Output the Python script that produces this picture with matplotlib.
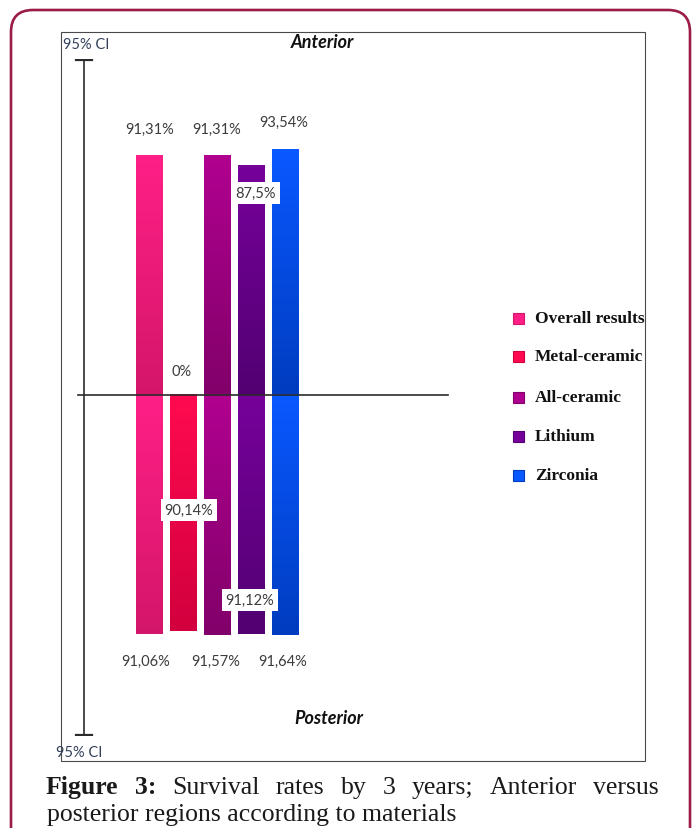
import numpy as np
import matplotlib
matplotlib.use("Agg")
import matplotlib.pyplot as plt
from matplotlib.patches import Rectangle, FancyBboxPatch
from matplotlib.colors import LinearSegmentedColormap
from matplotlib.transforms import blended_transform_factory

# ---------------- data ----------------
materials = ["Overall results", "Metal-ceramic", "All-ceramic", "Lithium", "Zirconia"]
anterior = [91.31, 0.0, 91.31, 87.5, 93.54]
posterior = [91.06, 90.14, 91.57, 91.12, 91.64]
anterior_labels = ["91,31%", "0%", "91,31%", "87,5%", "93,54%"]
posterior_labels = ["91,06%", "90,14%", "91,57%", "91,12%", "91,64%"]

# ---------------- styles ----------------
bright = ["#ff1f86", "#ff0a50", "#b0008f", "#76009a", "#0a58ff"]
dark = ["#d4166a", "#d2003e", "#82006a", "#520072", "#003cc0"]
# label placement (pixel offsets in x, pixel rows in y)
ant_dx = [1, -1, 0, 5, -1]
ant_y = [130, 372, 130, 194, 123]
post_dx = [-3, 6, -1, -1, -2]
post_y = [662, 511, 662, 601, 662]
ant_boxed = [False, False, False, True, False]
post_boxed = [False, True, False, True, False]

W, H = 697, 829
fig = plt.figure(figsize=(W / 100, H / 100), dpi=100)
fig.patch.set_facecolor("white")

# pixel-coordinate background axes
ax0 = fig.add_axes([0, 0, 1, 1])
ax0.set_xlim(0, W)
ax0.set_ylim(H, 0)
ax0.axis("off")

border = FancyBboxPatch((11, 11), 679, 900, boxstyle="round,pad=0,rounding_size=22",
                        fc="none", ec="#9b1c47", lw=1.9, zorder=1)
ax0.add_patch(border)
frame = Rectangle((61, 33), 584, 729, fc="none", ec="#4a4a4a", lw=0.8, zorder=1)
ax0.add_patch(frame)

ax0.text(322, 42, "Anterior", ha="center", va="center", fontsize=13,
         fontweight="bold", fontstyle="italic", family="Lato", color="#111111")
ax0.text(329, 718, "Posterior", ha="center", va="center", fontsize=13,
         fontweight="bold", fontstyle="italic", family="Lato", color="#111111")
ax0.text(63, 45, "95% CI", ha="left", va="center", fontsize=10.5, family="Lato",
         color="#34405a")
t = ax0.text(56, 753, "95% CI", ha="left", va="center", fontsize=10.5, family="Lato",
             color="#34405a")
t.set_clip_path(Rectangle((61, 33), 584, 729, transform=ax0.transData))

# legend (drawn manually to match positions)
leg_y = [319, 357, 398, 437, 476]
for i, name in enumerate(materials):
    ax0.add_patch(Rectangle((513, leg_y[i] - 5.5), 11, 11, fc=bright[i], ec=dark[i], lw=0.8, zorder=3))
    ax0.text(535, leg_y[i], name, ha="left", va="center", fontsize=12.5,
             fontweight="bold", family="Liberation Serif", color="#111111")

# caption, justified first line
renderer = fig.canvas.get_renderer()
words = [("Figure", "bold"), ("3:", "bold"), ("Survival", "normal"), ("rates", "normal"),
         ("by", "normal"), ("3", "normal"), ("years;", "normal"), ("Anterior", "normal"),
         ("versus", "normal")]
cap_fs = 18.5
x_left, x_right = 46, 659
texts = []
for w, fw in words:
    tt = ax0.text(0, 794, w, ha="left", va="baseline", fontsize=cap_fs, fontweight=fw,
                  family="Liberation Serif", color="#1a1a1a")
    texts.append(tt)
inv = ax0.transData.inverted()
widths = []
for tt in texts:
    bb = tt.get_window_extent(renderer)
    p0 = inv.transform((bb.x0, bb.y0))
    p1 = inv.transform((bb.x1, bb.y0))
    widths.append(p1[0] - p0[0])
gap = (x_right - x_left - sum(widths)) / (len(words) - 1)
x = x_left
for tt, wd in zip(texts, widths):
    tt.set_x(x)
    x += wd + gap
ax0.text(47, 821, "posterior regions according to materials", ha="left", va="baseline",
         fontsize=cap_fs, family="Liberation Serif", color="#1a1a1a")

# ---------------- bar axes ----------------
# axes spans pixel x 61..645, y 60..737 ; baseline at y=396
ax_l, ax_r, ax_t, ax_b = 61, 645, 60, 737
ax = fig.add_axes([ax_l / W, (H - ax_b) / H, (ax_r - ax_l) / W, (ax_b - ax_t) / H])
ax.axis("off")
k = 2.62  # px per percentage unit
px_per_cat = 34.0
c0 = 149.0
xlim = ((ax_l - c0) / px_per_cat, (ax_r - c0) / px_per_cat)
ylim = (-(ax_b - 396) / k, (396 - ax_t) / k)
bw = 27 / px_per_cat

xs = np.arange(len(materials))
for i in xs:
    for val, sign in ((anterior[i], 1), (posterior[i], -1)):
        if val <= 0:
            continue
        y0, y1 = (0, val) if sign > 0 else (-val, 0)
        cmap = LinearSegmentedColormap.from_list("g", [dark[i], bright[i]])
        grad = np.linspace(0, 1, 64).reshape(-1, 1)
        ax.imshow(grad, cmap=cmap, origin="lower", aspect="auto",
                  extent=(i - bw / 2, i + bw / 2, y0, y1), zorder=2)

# CI axis and baseline
ci_x = (84 - c0) / px_per_cat
ax.plot([ci_x, ci_x], [ylim[0] + 1 / k, ylim[1] - 1 / k], color="#2b2b2b", lw=1.2, zorder=3)
cap = 8 / px_per_cat
ax.plot([ci_x - cap, ci_x + cap], [ylim[1] - 1 / k] * 2, color="#2b2b2b", lw=1.6, zorder=3)
ax.plot([ci_x - cap, ci_x + cap], [ylim[0] + 1 / k] * 2, color="#2b2b2b", lw=1.6, zorder=3)
ax.plot([(78 - c0) / px_per_cat, (448 - c0) / px_per_cat], [0, 0], color="#2b2b2b", lw=1.2, zorder=4)

lab_kw = dict(fontsize=10.5, family="Lato", color="#3c3c3c", ha="center", va="center", zorder=5)
box = dict(boxstyle="square,pad=0.25", fc="white", ec="none")
tr = blended_transform_factory(ax.transData, ax0.transData)

for i in xs:
    kw = dict(lab_kw)
    if ant_boxed[i]:
        kw["bbox"] = box
    ax.text(i + ant_dx[i] / px_per_cat, ant_y[i], anterior_labels[i], transform=tr, **kw)
    kw = dict(lab_kw)
    if post_boxed[i]:
        kw["bbox"] = box
    ax.text(i + post_dx[i] / px_per_cat, post_y[i], posterior_labels[i], transform=tr, **kw)

ax.set_xlim(*xlim)
ax.set_ylim(*ylim)

fig.savefig("out.png", dpi=100)
